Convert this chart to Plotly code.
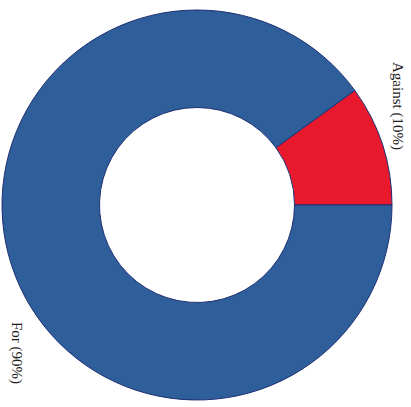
import plotly.graph_objects as go

# Vote split
labels = ["Against", "For"]
values = [10, 90]
colors = ["#e8192d", "#2e5f9b"]

W, H = 411, 407
cx, cy, R = 197, 205, 195  # pie centre / radius in pixels

fig = go.Figure(
    go.Pie(
        labels=labels,
        values=values,
        hole=0.5,
        sort=False,
        direction="clockwise",
        rotation=90 - 360 * values[0] / sum(values),
        textinfo="none",
        hoverinfo="label+percent",
        marker=dict(colors=colors, line=dict(color="#1f2f72", width=1)),
        domain=dict(
            x=[(cx - R) / W, (cx + R) / W],
            y=[(H - cy - R) / H, (H - cy + R) / H],
        ),
        showlegend=False,
    )
)

label_text = [f"{l} ({v}%)" for l, v in zip(labels, values)]
font = dict(family="Liberation Serif, DejaVu Serif, serif", size=15, color="#1e1e1e")

fig.add_annotation(
    x=398 / W, y=1 - 106 / H, xref="paper", yref="paper",
    text=label_text[0], textangle=90, showarrow=False, font=font,
    xanchor="center", yanchor="middle",
)
fig.add_annotation(
    x=17 / W, y=1 - 353 / H, xref="paper", yref="paper",
    text=label_text[1], textangle=90, showarrow=False, font=font,
    xanchor="center", yanchor="middle",
)

fig.update_layout(
    width=W,
    height=H,
    margin=dict(l=0, r=0, t=0, b=0),
    paper_bgcolor="white",
    plot_bgcolor="white",
)

fig.write_html("out.html")
